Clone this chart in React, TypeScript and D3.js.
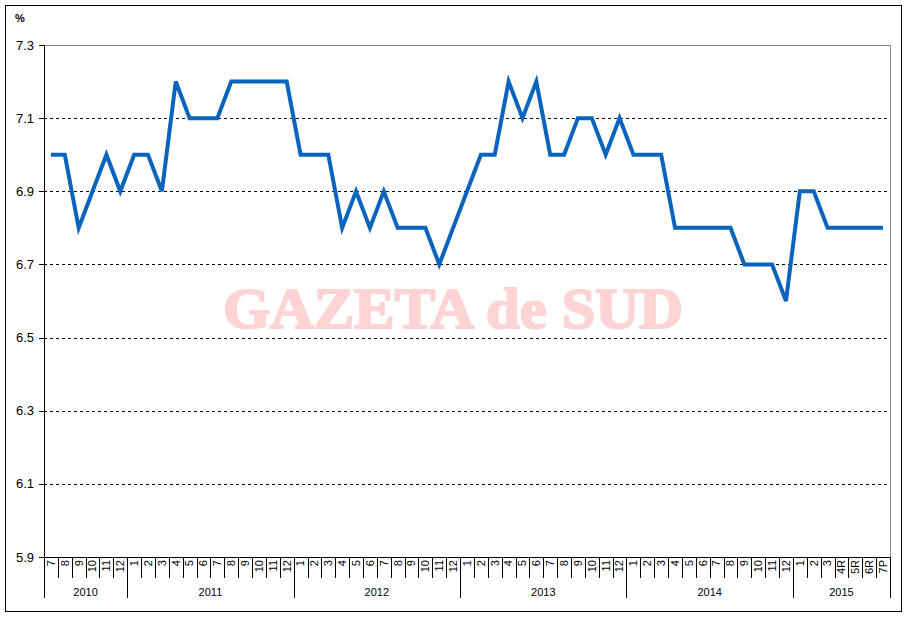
import React from "react";
import * as d3 from "d3";

const years = ["2010", "2011", "2012", "2013", "2014", "2015"];
const monthsByYear: string[][] = [
  ["7", "8", "9", "10", "11", "12"],
  ["1", "2", "3", "4", "5", "6", "7", "8", "9", "10", "11", "12"],
  ["1", "2", "3", "4", "5", "6", "7", "8", "9", "10", "11", "12"],
  ["1", "2", "3", "4", "5", "6", "7", "8", "9", "10", "11", "12"],
  ["1", "2", "3", "4", "5", "6", "7", "8", "9", "10", "11", "12"],
  ["1", "2", "3", "4R", "5R", "6R", "7P"],
];
const values2010 = [7.0, 7.0, 6.8, 6.9, 7.0, 6.9];
const values2011 = [7.0, 7.0, 6.9, 7.2, 7.1, 7.1, 7.1, 7.2, 7.2, 7.2, 7.2, 7.2];
const values2012 = [7.0, 7.0, 7.0, 6.8, 6.9, 6.8, 6.9, 6.8, 6.8, 6.8, 6.7, 6.8];
const values2013 = [6.9, 7.0, 7.0, 7.2, 7.1, 7.2, 7.0, 7.0, 7.1, 7.1, 7.0, 7.1];
const values2014 = [7.0, 7.0, 7.0, 6.8, 6.8, 6.8, 6.8, 6.8, 6.7, 6.7, 6.7, 6.6];
const values2015 = [6.9, 6.9, 6.8, 6.8, 6.8, 6.8, 6.8];
const yTicks = [5.9, 6.1, 6.3, 6.5, 6.7, 6.9, 7.1, 7.3];

export default function App() {
  const W = 907, H = 618;
  const left = 44, right = 890, top = 45, bottom = 557;
  const values = [...values2010, ...values2011, ...values2012, ...values2013, ...values2014, ...values2015];
  const cats = monthsByYear.flatMap((ms, yi) => ms.map((m) => `${years[yi]}-${m}`));
  const x = d3.scaleBand<string>().domain(cats).range([left, right]).padding(0);
  const y = d3.scaleLinear().domain([5.9, 7.3]).range([bottom, top]);
  const line = d3.line<number>().x((_, i) => (x(cats[i]) as number) + x.bandwidth() / 2).y((d) => y(d));
  const bw = x.bandwidth();
  const font = "Arial, 'Liberation Sans', sans-serif";

  const yearBounds: { start: number; end: number; label: string }[] = [];
  let idx = 0;
  monthsByYear.forEach((ms, yi) => {
    yearBounds.push({ start: idx, end: idx + ms.length, label: years[yi] });
    idx += ms.length;
  });

  return (
    <svg width={W} height={H} style={{ position: "absolute", left: 0, top: 0, background: "#fff" }}>
      <rect x={5.5} y={5.5} width={896} height={606} fill="#fff" stroke="#000" strokeWidth={1} />
      {/* watermark */}
      <text x={453} y={328} textAnchor="middle" fontFamily="'Liberation Serif', 'Times New Roman', serif" fontWeight="bold"
        fontSize={56} fill="#fdd3d3" stroke="#fdd3d3" strokeWidth={2} textLength={460} lengthAdjust="spacingAndGlyphs">GAZETA de SUD</text>
      {/* gridlines */}
      {yTicks.filter((t) => t > 5.95 && t < 7.25).map((t) => (
        <line key={t} x1={left} x2={right} y1={Math.round(y(t)) + 0.5} y2={Math.round(y(t)) + 0.5}
          stroke="#000" strokeDasharray="3,3" strokeWidth={1} />
      ))}
      {/* plot frame top/right */}
      <line x1={left} x2={right + 1} y1={top + 0.5} y2={top + 0.5} stroke="#888" />
      <line x1={right + 0.5} x2={right + 0.5} y1={top} y2={bottom} stroke="#888" />
      {/* y axis */}
      <line x1={left + 0.5} x2={left + 0.5} y1={top} y2={bottom} stroke="#000" />
      {yTicks.map((t) => (
        <g key={t}>
          <line x1={left - 5} x2={left} y1={Math.round(y(t)) + 0.5} y2={Math.round(y(t)) + 0.5} stroke="#000" />
          <text x={34} y={y(t)} dy="0.35em" textAnchor="end" fontFamily={font} fontSize={13} fill="#000">{t.toFixed(1)}</text>
        </g>
      ))}
      <text x={15} y={22} fontFamily={font} fontSize={11} fontWeight="bold" fill="#000">%</text>
      {/* x axis */}
      <line x1={left} x2={right + 1} y1={bottom + 0.5} y2={bottom + 0.5} stroke="#000" />
      {cats.map((c) => {
        const xs = Math.round((x(c) as number)) + 0.5;
        return <line key={"t" + c} x1={xs} x2={xs} y1={bottom} y2={578} stroke="#000" />;
      })}
      {yearBounds.map((b) => {
        const xs = Math.round((x(cats[b.start]) as number)) + 0.5;
        return <line key={"yb" + b.label} x1={xs} x2={xs} y1={bottom} y2={598} stroke="#000" />;
      })}
      <line x1={Math.round(right) + 0.5} x2={Math.round(right) + 0.5} y1={bottom} y2={598} stroke="#000" />
      {cats.map((c) => {
        const cx = (x(c) as number) + bw / 2;
        const label = c.split("-")[1];
        return (
          <text key={"l" + c} transform={`translate(${cx},${560}) rotate(-90)`} textAnchor="end" dy="0.35em"
            fontFamily={font} fontSize={11} fill="#000">{label}</text>
        );
      })}
      {yearBounds.map((b) => {
        const x0 = x(cats[b.start]) as number;
        const x1 = b.end < cats.length ? (x(cats[b.end]) as number) : right;
        return (
          <text key={"yl" + b.label} x={(x0 + x1) / 2} y={596} textAnchor="middle" fontFamily={font} fontSize={11} fill="#000">{b.label}</text>
        );
      })}
      {/* line */}
      <path d={line(values) || ""} fill="none" stroke="#0a64be" strokeWidth={4} strokeLinejoin="miter" strokeLinecap="butt" />
    </svg>
  );
}
